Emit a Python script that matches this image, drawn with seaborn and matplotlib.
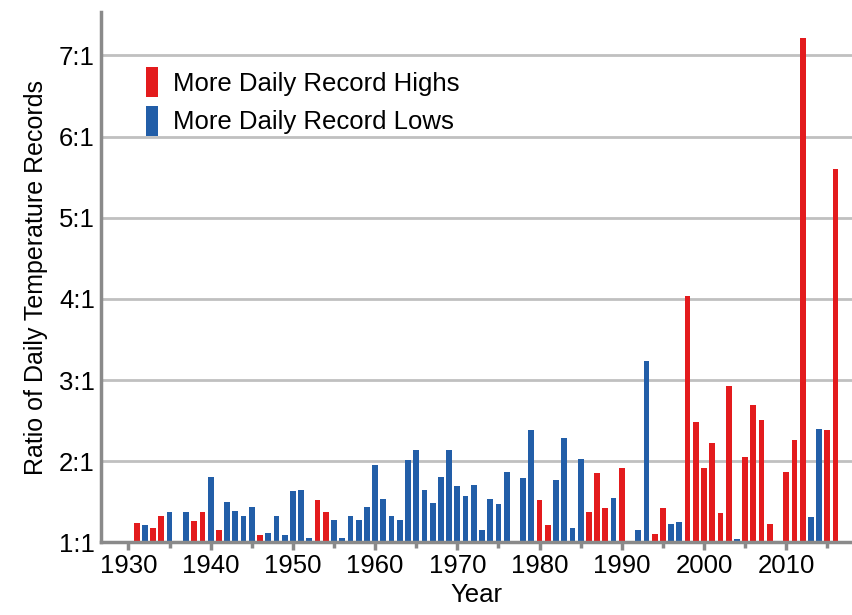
import numpy as np
import pandas as pd
from matplotlib import pyplot as plt
from matplotlib.patches import Patch
import seaborn as sns

plt.rcParams["font.family"] = ["Liberation Sans", "DejaVu Sans"]

years = list(range(1931, 2017))
ratios = [1.24, 1.21, 1.18, 1.33, 1.38, 1.02, 1.37, 1.26, 1.37, 1.80,
          1.15, 1.50, 1.39, 1.32, 1.44, 1.09, 1.12, 1.33, 1.09, 1.63,
          1.64, 1.06, 1.52, 1.38, 1.28, 1.05, 1.33, 1.28, 1.44, 1.95,
          1.54, 1.32, 1.28, 2.02, 2.14, 1.65, 1.49, 1.80, 2.14, 1.69,
          1.57, 1.71, 1.15, 1.53, 1.47, 1.87, 1.00, 1.79, 2.38, 1.52,
          1.21, 1.77, 2.29, 1.18, 2.03, 1.38, 1.86, 1.43, 1.55, 1.92,
          1.02, 1.15, 3.24, 1.10, 1.42, 1.23, 1.25, 4.04, 2.48, 1.92,
          2.22, 1.36, 2.93, 1.04, 2.05, 2.69, 2.51, 1.23, 1.00, 1.87,
          2.26, 7.21, 1.31, 2.40, 2.38, 5.60]
kinds = list("HLHHLLLHHLHLLLLHLLLLLLHHLLLLLLLLLLLLLLLLLLLLLLLLLHHLLLLHHHLHLLLHHLLHHHHHHLHHHHHHHHLLHH")

RED = "#e31b1d"
BLUE = "#225ea8"

df = pd.DataFrame({"year": years, "excess": np.array(ratios) - 1, "kind": kinds})

fig, ax = plt.subplots(figsize=(8.52, 6.15), dpi=100)
sns.barplot(data=df, x="year", y="excess", hue="kind", native_scale=True,
            dodge=False, palette={"H": RED, "L": BLUE}, width=0.7,
            saturation=1, legend=False, ax=ax)

ax.set_xlim(1926.6, 2018.0)
ax.set_ylim(0, 6.53)
ax.set_yticks(range(0, 7))
ax.set_yticklabels([f"{i + 1}:1" for i in range(7)])
ax.set_xticks(range(1930, 2011, 10))
ax.set_xticks(range(1935, 2020, 10), minor=True)
ax.grid(axis="y", color="#c0c0c0", linewidth=2)
ax.set_axisbelow(True)
for s in ["top", "right"]:
    ax.spines[s].set_visible(False)
for s in ["left", "bottom"]:
    ax.spines[s].set_color("#8a8a8a")
    ax.spines[s].set_linewidth(2.5)
ax.tick_params(axis="both", which="major", labelsize=18.5, color="#8a8a8a", width=2.5, length=6)
ax.tick_params(axis="x", which="minor", color="#8a8a8a", width=2.5, length=4)
ax.tick_params(axis="x", pad=2)
ax.tick_params(axis="y", length=0, pad=4)
ax.set_xlabel("Year", fontsize=18.5, labelpad=4)
ax.set_ylabel("Ratio of Daily Temperature Records", fontsize=18, labelpad=8)

handles = [Patch(facecolor=c, edgecolor="none") for c in (RED, BLUE)]
ax.legend(handles, ["More Daily Record Highs", "More Daily Record Lows"],
          loc="upper left", bbox_to_anchor=(0.03, 0.94), frameon=False,
          fontsize=18.5, handlelength=0.45, handleheight=1.4, handletextpad=0.6,
          labelspacing=0.35)

plt.subplots_adjust(left=0.118, right=1.0, top=0.98, bottom=0.118)
plt.savefig("out.png")
